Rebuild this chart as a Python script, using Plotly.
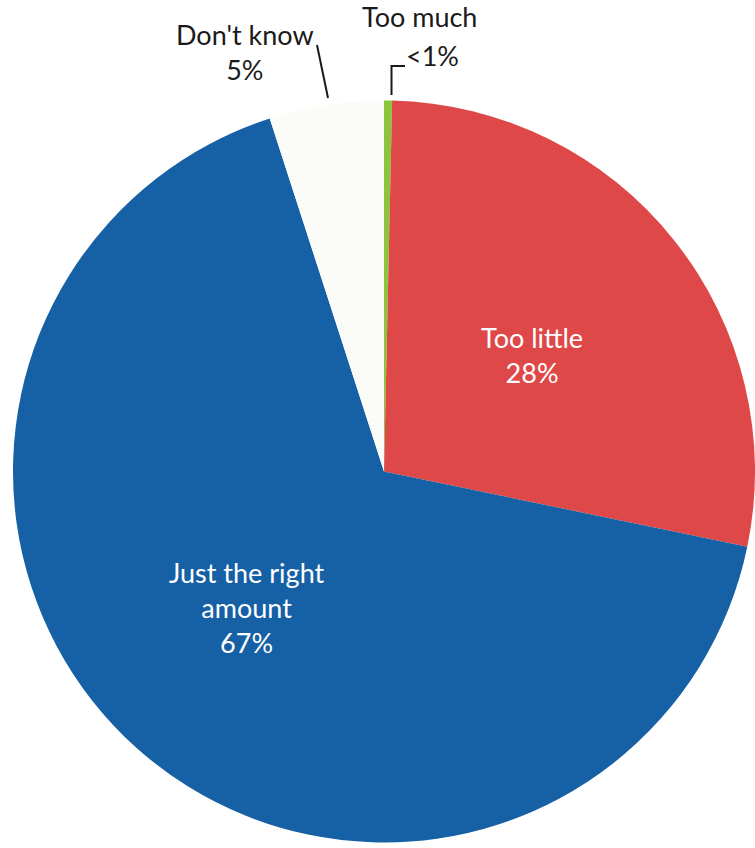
import plotly.graph_objects as go

labels = ["Too much", "Too little", "Just the right amount", "Don't know"]
values = [0.35, 28, 67, 5]
display_pct = ["<1%", "28%", "67%", "5%"]
colors = ["#8cc43c", "#de4848", "#1660a6", "#fbfbf8"]

W, H = 755, 848

def px(x):
    return x / W

def py(y):
    return 1 - y / H

fig = go.Figure(go.Pie(
    labels=labels,
    values=values,
    sort=False,
    direction="clockwise",
    rotation=0,
    marker=dict(colors=colors, line=dict(width=0)),
    textinfo="none",
    hoverinfo="label+percent",
    showlegend=False,
    domain=dict(x=[13 / W, 1], y=[0, 1 - 95 / H]),
))

font_out = dict(family="Lato, 'Open Sans', sans-serif", size=27, color="#1a1a1a")
font_in = dict(family="Lato, 'Open Sans', sans-serif", size=27, color="#ffffff")

ann = [
    dict(x=px(532), y=py(355), text=f"{labels[1]}<br>{display_pct[1]}", font=font_in),
    dict(x=px(247), y=py(607), text=f"Just the right<br>amount<br>{display_pct[2]}", font=font_in),
    dict(x=px(245), y=py(52), text=f"{labels[3]}<br>{display_pct[3]}", font=font_out),
    dict(x=px(420), y=py(17), text=labels[0], font=font_out),
    dict(x=px(432), y=py(55), text=display_pct[0], font=font_out),
]
for a in ann:
    a.update(xref="paper", yref="paper", showarrow=False, xanchor="center", yanchor="middle", align="center")

line_style = dict(color="#1a1a1a", width=2)
shapes = [
    dict(type="line", xref="paper", yref="paper", x0=px(317), y0=py(45), x1=px(328), y1=py(98), line=line_style),
    dict(type="path", xref="paper", yref="paper",
         path=f"M {px(391.5)} {py(95)} L {px(391.5)} {py(66)} L {px(405)} {py(66)}", line=line_style),
]

fig.update_layout(
    width=W, height=H,
    margin=dict(l=0, r=0, t=0, b=0),
    paper_bgcolor="white",
    plot_bgcolor="white",
    annotations=ann,
    shapes=shapes,
)

fig.write_html("out.html", config={"displayModeBar": False},
               post_script="document.body.style.margin='0';")
